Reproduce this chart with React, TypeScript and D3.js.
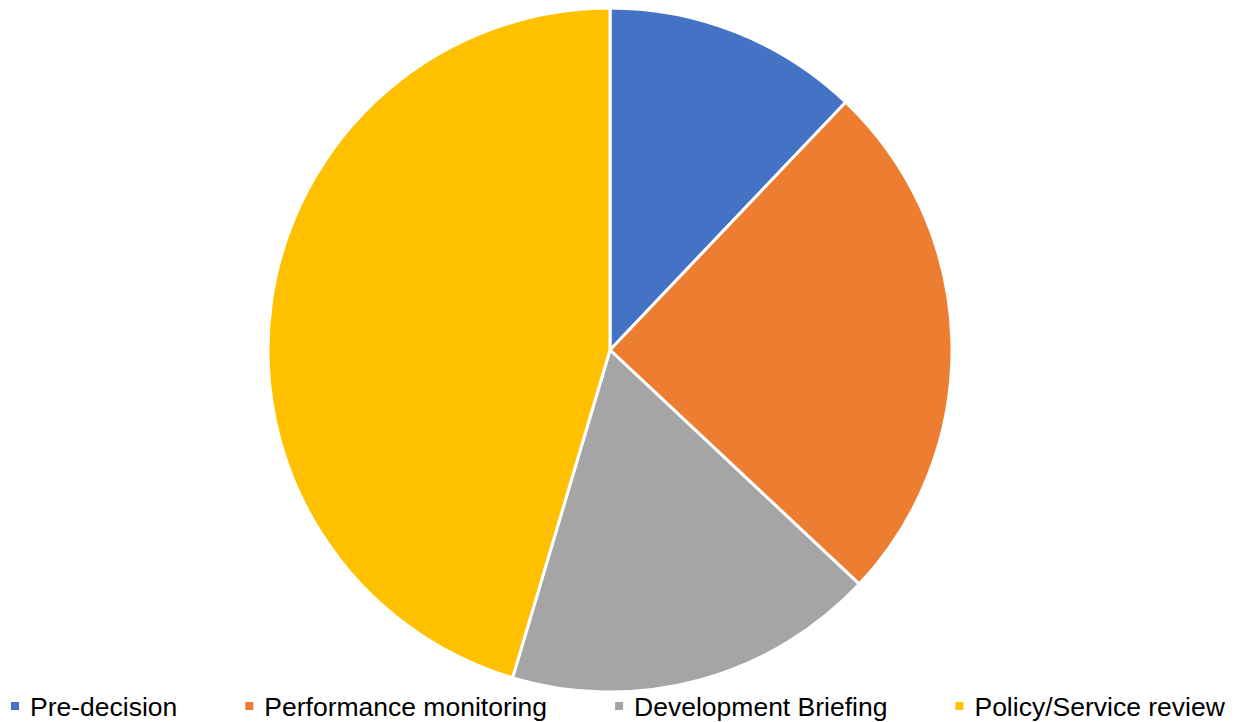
import { useEffect, useRef } from 'react'
import * as d3 from 'd3'

const categories = ['Pre-decision', 'Performance monitoring', 'Development Briefing', 'Policy/Service review']
const values = [12.1, 24.9, 17.6, 45.4]
const colors = ['#4472C4', '#ED7D31', '#A5A5A5', '#FFC000']

const width = 1238
const height = 722

export default function App() {
  const svgRef = useRef<SVGSVGElement>(null)

  useEffect(() => {
    if (!svgRef.current) return
    const svg = d3.select(svgRef.current)
    svg.selectAll('*').remove()

    const cx = 610
    const cy = 350
    const radius = 342

    const data = categories.map((c, i) => ({ name: c, value: values[i], color: colors[i] }))
    const pie = d3.pie<{ name: string; value: number; color: string }>()
      .value(d => d.value)
      .sort(null)
    const arc = d3.arc<d3.PieArcDatum<{ name: string; value: number; color: string }>>()
      .innerRadius(0)
      .outerRadius(radius)

    const g = svg.append('g').attr('transform', `translate(${cx},${cy})`)
    g.selectAll('path')
      .data(pie(data))
      .enter().append('path')
      .attr('d', arc)
      .attr('fill', d => d.data.color)
      .attr('stroke', '#fff')
      .attr('stroke-width', 3)
      .attr('stroke-linejoin', 'round')

    // legend
    const legend = svg.append('g').attr('transform', 'translate(0,716)')
    let x = 11
    data.forEach(d => {
      legend.append('rect')
        .attr('x', x)
        .attr('y', -14)
        .attr('width', 8)
        .attr('height', 8)
        .attr('fill', d.color)
      const t = legend.append('text')
        .attr('x', x + 19)
        .attr('y', 0)
        .attr('font-family', 'Liberation Sans, Arial, sans-serif')
        .attr('font-size', 26.5)
        .attr('fill', '#000')
        .text(d.name)
      const w = (t.node() as SVGTextElement).getComputedTextLength()
      x = x + 19 + w + 68
    })
  }, [])

  return (
    <svg ref={svgRef} width={width} height={height} style={{ position: 'absolute', left: 0, top: 0 }} />
  )
}
